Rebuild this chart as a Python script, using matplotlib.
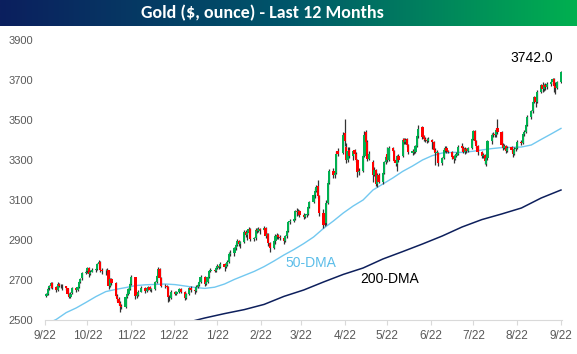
import numpy as np
import pandas as pd
import matplotlib
matplotlib.use('Agg')
import matplotlib.pyplot as plt
import matplotlib.dates as mdates
from matplotlib.colors import LinearSegmentedColormap


# trading days shown on the chart
holidays = ['2024-11-28', '2024-12-25', '2025-01-01', '2025-04-18']
days = pd.bdate_range('2024-09-23', '2025-09-22')
days = days[~days.isin(pd.to_datetime(holidays))]

# daily candles, one line per month (Sep 24 ... Sep 25)
opens = [
    2622, 2630, 2660, 2668, 2683, 2663,
    2650, 2680, 2672, 2667, 2668, 2660, 2630, 2615, 2633, 2661, 2648, 2666, 2690, 2708, 2735, 2743, 2762, 2730, 2742, 2752, 2756, 2781, 2790,
    2750, 2745, 2745, 2748, 2670, 2705, 2685, 2620, 2605, 2585, 2570, 2565, 2615, 2630, 2655, 2680, 2714, 2620, 2626, 2641,
    2660, 2645, 2655, 2666, 2650, 2656, 2690, 2721, 2756, 2711, 2672, 2670, 2665, 2612, 2610, 2640, 2630, 2640, 2656, 2640, 2610,
    2630, 2661, 2650, 2645, 2665, 2676, 2690, 2716, 2680, 2690, 2716, 2745, 2750, 2746, 2760, 2770, 2765, 2780, 2765, 2775, 2790, 2830,
    2835, 2860, 2876, 2895, 2881, 2891, 2940, 2925, 2936, 2956, 2905, 2910, 2950, 2945, 2956, 2950, 2962, 2920, 2930, 2885,
    2860, 2895, 2920, 2926, 2915, 2910, 2895, 2920, 2945, 2990, 2996, 3005, 3045, 3041, 3046, 3025, 3015, 3026, 3030, 3065, 3090,
    3125, 3145, 3170, 3120, 3035, 2990, 2985, 3085, 3185, 3245, 3225, 3236, 3345, 3335, 3435, 3365, 3300, 3350, 3318, 3348, 3330,
    3300, 3240, 3245, 3320, 3440, 3390, 3305, 3290, 3225, 3250, 3180, 3225, 3190, 3235, 3290, 3330, 3300, 3360, 3345, 3300, 3280, 3320,
    3320, 3405, 3390, 3405, 3375, 3335, 3346, 3340, 3372, 3420, 3465, 3420, 3405, 3400, 3396, 3400, 3390, 3350, 3335, 3335, 3285,
    3310, 3350, 3362, 3345, 3340, 3318, 3305, 3320, 3330, 3368, 3362, 3340, 3356, 3345, 3360, 3405, 3445, 3395, 3370, 3340, 3320, 3325, 3280,
    3310, 3395, 3425, 3432, 3425, 3460, 3440, 3375, 3360, 3370, 3345, 3365, 3350, 3330, 3355, 3360, 3392, 3385, 3430, 3440, 3475,
    3515, 3545, 3590, 3615, 3590, 3640, 3675, 3655, 3675, 3665, 3680, 3690, 3705, 3670, 3660, 3690,
]
highs = [
    2637, 2665, 2676, 2690, 2688, 2668,
    2688, 2685, 2680, 2678, 2672, 2662, 2635, 2640, 2665, 2665, 2672, 2695, 2712, 2740, 2750, 2765, 2765, 2748, 2760, 2762, 2785, 2800, 2795,
    2760, 2755, 2760, 2750, 2712, 2712, 2690, 2630, 2615, 2595, 2578, 2620, 2640, 2660, 2690, 2725, 2716, 2640, 2648, 2668,
    2665, 2662, 2672, 2670, 2660, 2695, 2725, 2765, 2760, 2715, 2680, 2675, 2670, 2625, 2648, 2645, 2645, 2662, 2660, 2645, 2635,
    2665, 2668, 2660, 2675, 2685, 2695, 2725, 2720, 2700, 2722, 2750, 2758, 2755, 2768, 2780, 2775, 2790, 2785, 2782, 2800, 2840, 2850,
    2865, 2885, 2905, 2900, 2895, 2948, 2950, 2945, 2965, 2958, 2915, 2958, 2960, 2965, 2960, 2968, 2965, 2935, 2935, 2890,
    2900, 2930, 2935, 2930, 2925, 2915, 2925, 2950, 2995, 3005, 3010, 3050, 3060, 3055, 3050, 3035, 3030, 3035, 3070, 3095, 3130,
    3160, 3175, 3200, 3125, 3055, 3030, 3100, 3200, 3255, 3260, 3245, 3345, 3360, 3440, 3505, 3385, 3365, 3365, 3350, 3355, 3340,
    3305, 3260, 3330, 3445, 3450, 3400, 3345, 3300, 3265, 3255, 3235, 3235, 3240, 3295, 3325, 3365, 3370, 3365, 3350, 3310, 3325, 3330,
    3410, 3410, 3410, 3410, 3380, 3355, 3355, 3375, 3425, 3475, 3470, 3425, 3415, 3410, 3415, 3405, 3395, 3360, 3350, 3340, 3315,
    3360, 3370, 3370, 3350, 3345, 3325, 3330, 3340, 3375, 3385, 3370, 3365, 3360, 3365, 3410, 3450, 3450, 3400, 3375, 3345, 3335, 3330, 3320,
    3400, 3435, 3440, 3440, 3460, 3505, 3445, 3385, 3380, 3375, 3370, 3370, 3355, 3365, 3370, 3400, 3400, 3435, 3450, 3480, 3525,
    3550, 3595, 3620, 3620, 3650, 3680, 3690, 3680, 3685, 3690, 3695, 3710, 3710, 3690, 3695, 3745,
]
lows = [
    2617, 2626, 2652, 2660, 2655, 2640,
    2645, 2665, 2660, 2650, 2652, 2625, 2608, 2610, 2628, 2640, 2645, 2660, 2685, 2702, 2728, 2735, 2715, 2725, 2738, 2740, 2750, 2775, 2740,
    2730, 2725, 2735, 2655, 2665, 2675, 2615, 2595, 2575, 2541, 2555, 2562, 2610, 2625, 2650, 2675, 2605, 2612, 2620, 2638,
    2635, 2640, 2648, 2645, 2640, 2650, 2685, 2715, 2705, 2665, 2660, 2655, 2590, 2595, 2605, 2625, 2625, 2635, 2635, 2600, 2605,
    2625, 2640, 2630, 2640, 2660, 2670, 2685, 2670, 2675, 2685, 2710, 2738, 2740, 2740, 2755, 2755, 2760, 2745, 2760, 2770, 2785, 2820,
    2820, 2850, 2870, 2870, 2860, 2885, 2915, 2900, 2930, 2895, 2895, 2900, 2935, 2940, 2930, 2945, 2912, 2910, 2870, 2840,
    2855, 2880, 2905, 2905, 2900, 2880, 2890, 2912, 2940, 2980, 2990, 3000, 3020, 3025, 3015, 3005, 3010, 3015, 3025, 3060, 3085,
    3110, 3140, 3110, 3020, 2960, 2970, 2975, 3080, 3180, 3210, 3210, 3230, 3320, 3330, 3370, 3285, 3290, 3310, 3300, 3310, 3290,
    3215, 3225, 3240, 3315, 3380, 3295, 3300, 3190, 3220, 3170, 3165, 3185, 3180, 3230, 3280, 3290, 3295, 3340, 3290, 3270, 3245, 3290,
    3315, 3380, 3380, 3365, 3330, 3325, 3330, 3335, 3365, 3410, 3405, 3395, 3390, 3385, 3390, 3355, 3345, 3275, 3325, 3270, 3275,
    3305, 3340, 3335, 3335, 3305, 3285, 3300, 3315, 3325, 3345, 3335, 3330, 3335, 3340, 3355, 3400, 3385, 3360, 3325, 3310, 3310, 3280, 3270,
    3300, 3380, 3415, 3415, 3415, 3430, 3370, 3350, 3355, 3335, 3340, 3340, 3315, 3325, 3345, 3355, 3375, 3380, 3420, 3435, 3470,
    3505, 3535, 3585, 3565, 3585, 3635, 3640, 3645, 3650, 3655, 3670, 3680, 3640, 3630, 3655, 3685,
]
closes = [
    2631, 2657, 2668, 2684, 2662, 2650,
    2680, 2672, 2668, 2665, 2660, 2630, 2615, 2632, 2660, 2648, 2665, 2690, 2705, 2735, 2742, 2760, 2730, 2742, 2752, 2755, 2780, 2790, 2750,
    2745, 2745, 2750, 2670, 2705, 2685, 2620, 2605, 2585, 2570, 2565, 2615, 2630, 2655, 2680, 2715, 2620, 2625, 2640, 2660,
    2645, 2655, 2665, 2650, 2655, 2690, 2720, 2755, 2710, 2670, 2670, 2665, 2615, 2610, 2640, 2630, 2640, 2655, 2640, 2610, 2630,
    2660, 2650, 2645, 2665, 2675, 2690, 2715, 2680, 2690, 2715, 2745, 2750, 2745, 2760, 2770, 2765, 2780, 2765, 2775, 2790, 2830, 2835,
    2860, 2875, 2895, 2880, 2890, 2940, 2925, 2935, 2955, 2905, 2910, 2950, 2945, 2955, 2950, 2960, 2920, 2930, 2885, 2860,
    2895, 2920, 2925, 2915, 2910, 2895, 2920, 2945, 2990, 2995, 3005, 3045, 3040, 3045, 3025, 3015, 3025, 3030, 3065, 3090, 3125,
    3145, 3165, 3120, 3035, 2975, 2985, 3085, 3185, 3245, 3225, 3235, 3330, 3330, 3425, 3395, 3300, 3345, 3320, 3345, 3330, 3300,
    3240, 3245, 3320, 3425, 3390, 3305, 3330, 3225, 3250, 3180, 3225, 3190, 3235, 3290, 3315, 3300, 3360, 3345, 3295, 3285, 3320, 3300,
    3400, 3390, 3400, 3375, 3340, 3345, 3340, 3370, 3420, 3455, 3415, 3405, 3400, 3395, 3405, 3390, 3350, 3335, 3340, 3285, 3310,
    3350, 3360, 3345, 3340, 3315, 3305, 3320, 3330, 3365, 3360, 3340, 3355, 3345, 3360, 3405, 3445, 3395, 3370, 3340, 3320, 3325, 3295, 3310,
    3395, 3425, 3430, 3425, 3450, 3440, 3375, 3360, 3370, 3345, 3360, 3350, 3330, 3355, 3360, 3390, 3385, 3430, 3440, 3475, 3515,
    3545, 3590, 3615, 3590, 3640, 3675, 3655, 3675, 3665, 3680, 3690, 3705, 3670, 3660, 3690, 3742.0,
]

# moving averages (weekly)
ma50_dates = pd.date_range('2024-09-23', '2025-09-22', freq='7D')
ma50 = [2480, 2503, 2537, 2560, 2588, 2617, 2642, 2653, 2662, 2672, 2676, 2678, 2680,
        2677, 2670, 2663, 2658, 2664, 2680, 2703, 2723, 2743, 2767, 2795, 2825, 2852,
        2882, 2915, 2958, 2995, 3035, 3070, 3100, 3150, 3180, 3210, 3243, 3270, 3300,
        3322, 3335, 3338, 3338, 3343, 3350, 3357, 3362, 3363, 3365, 3375, 3403, 3430, 3458]
ma200_dates = ['2024-12-30', '2025-01-13', '2025-01-27', '2025-02-10', '2025-02-24', '2025-03-10',
               '2025-03-24', '2025-04-07', '2025-04-21', '2025-05-05', '2025-05-19', '2025-06-02',
               '2025-06-16', '2025-06-30', '2025-07-14', '2025-07-28', '2025-08-11', '2025-08-25',
               '2025-09-08', '2025-09-22']
ma200 = [2485, 2510, 2532, 2552, 2578, 2618, 2650, 2690, 2728, 2760, 2805, 2842, 2880,
         2920, 2965, 3002, 3030, 3060, 3110, 3150]

tick_dates = pd.date_range('2024-09-22', periods=13, freq=pd.DateOffset(months=1))
tick_labels = ['9/22', '10/22', '11/22', '12/22', '1/22', '2/22', '3/22', '4/22',
               '5/22', '6/22', '7/22', '8/22', '9/22']

plt.rcParams['font.family'] = ['Liberation Sans', 'DejaVu Sans']

fig = plt.figure(figsize=(5.77, 3.54), dpi=100)

# title bar with navy -> green gradient
tax = fig.add_axes([0, 1 - 26 / 354, 1, 26 / 354])
cmap = LinearSegmentedColormap.from_list('bar', ['#0b1f5e', '#00566a', '#00b050'])
tax.imshow(np.linspace(0, 1, 256).reshape(1, -1), cmap=cmap, aspect='auto', extent=[0, 1, 0, 1])
tax.set_axis_off()
tax.text(0.454, 0.5, 'Gold (\\$, ounce) - Last 12 Months', color='white', fontsize=13,
         fontweight='bold', ha='center', va='center', transform=tax.transAxes,
         family=['Carlito', 'Liberation Sans Narrow', 'Liberation Sans', 'DejaVu Sans'])

ax = fig.add_axes([45 / 577, 34 / 354, 517.4 / 577, 280 / 354])
x = mdates.date2num(days)
o = np.array(opens, dtype=float)
c = np.array(closes, dtype=float)
up = c >= o
colors = np.where(up, '#00b050', '#ff0000')

ax.vlines(x, lows, highs, color='#333333', linewidth=0.9, zorder=2)
ax.bar(x, np.abs(c - o), bottom=np.minimum(o, c), width=1.6, color=colors, linewidth=0, zorder=3)

ax.plot(mdates.date2num(ma50_dates), ma50, color='#72c8f0', linewidth=1.0, zorder=1)
ax.plot(mdates.date2num(pd.to_datetime(ma200_dates)), ma200, color='#0d1f5c', linewidth=1.1, zorder=1)

ax.text(mdates.date2num(pd.Timestamp('2025-03-29')), 2785, '50-DMA', color='#5bbde9',
        fontsize=10, ha='center', va='center')
ax.text(mdates.date2num(pd.Timestamp('2025-05-24')), 2705, '200-DMA', color='black',
        fontsize=10, ha='center', va='center')
ax.text(mdates.date2num(pd.Timestamp('2025-09-01')), 3810, f'{closes[-1]:.1f}', color='black',
        fontsize=10, ha='center', va='center')

ax.set_xlim(mdates.date2num(pd.Timestamp('2024-09-22')), mdates.date2num(pd.Timestamp('2025-09-23')))
ax.set_ylim(2500, 3900)
ax.set_yticks(range(2500, 3901, 200))
ax.set_xticks(mdates.date2num(tick_dates))
ax.set_xticklabels(tick_labels)

for side in ['top', 'right', 'left']:
    ax.spines[side].set_visible(False)
ax.spines['bottom'].set_color('#d9d9d9')
ax.tick_params(axis='x', length=3.5, color='#d9d9d9', labelcolor='#595959', labelsize=8.5, pad=4)
ax.tick_params(axis='y', length=0, labelcolor='#595959', labelsize=8, pad=8.5)

fig.savefig('out.png', dpi=100)
